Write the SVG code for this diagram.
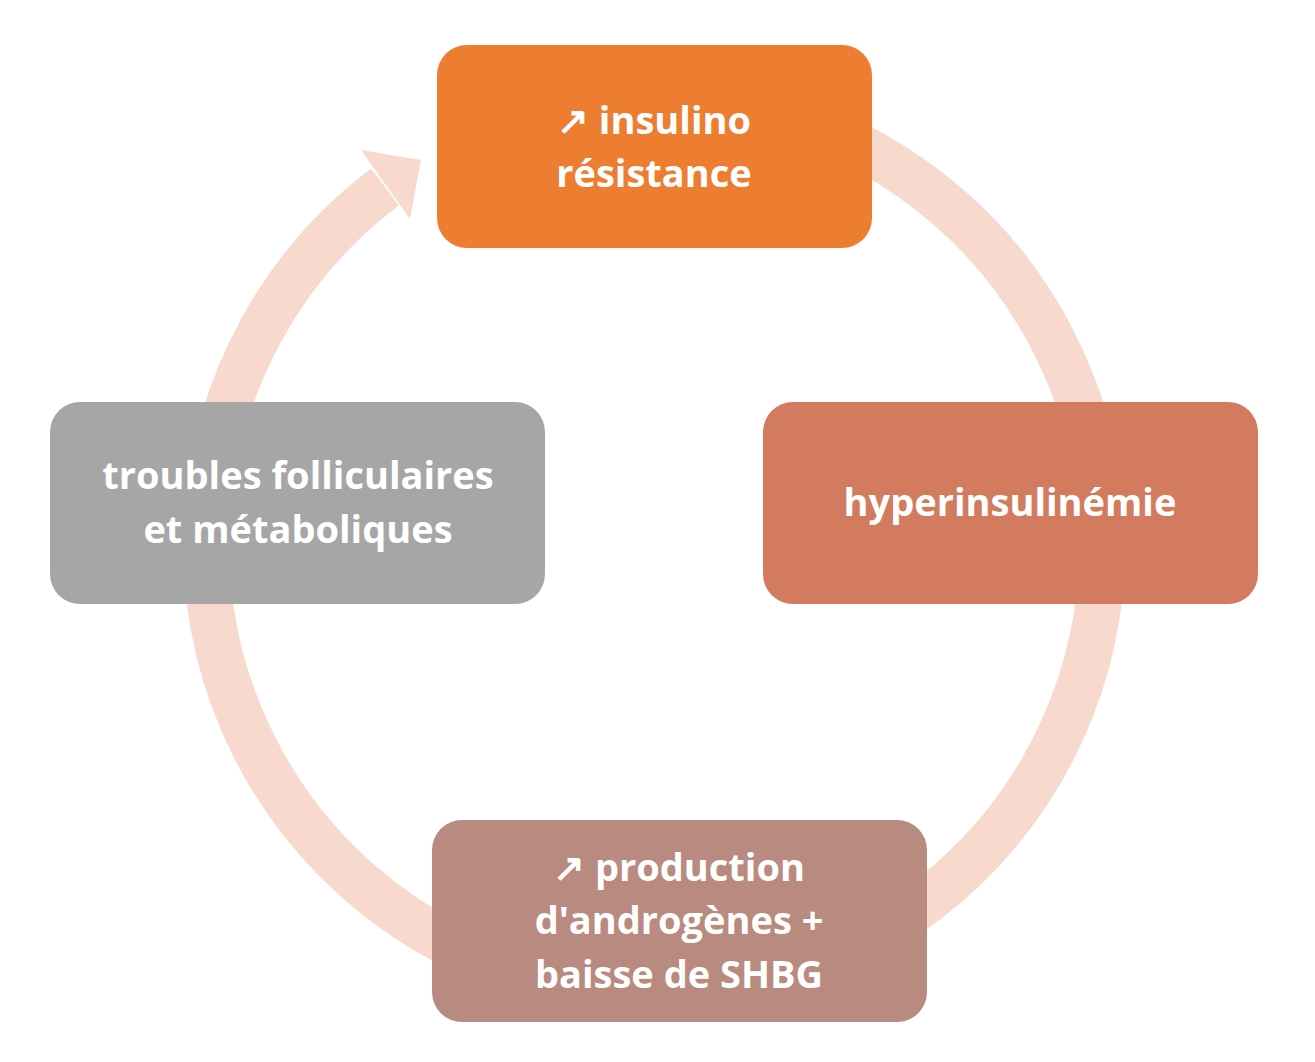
<svg xmlns="http://www.w3.org/2000/svg" width="1315" height="1062" viewBox="0 0 1315 1062">
<style>
.t{font-family:"Open Sans","Noto Sans",sans-serif;font-weight:700;font-size:38px;fill:#fff;text-anchor:middle}
</style>
<rect width="1315" height="1062" fill="#fff"/>
<g id="connectors">
<path d="M733,104 A448,448 0 1 1 385,187" fill="none" stroke="#F7D9CE" stroke-width="46"/>
<polygon points="421,160 361,150 410,219" fill="#F7D9CE"/>
</g>
<g id="n1"><rect x="437" y="45" width="435" height="203" rx="30" fill="#ED7D31"/>
<text class="t" x="654" y="134">↗ insulino</text><text class="t" x="654" y="187">résistance</text></g>
<g id="n2"><rect x="763" y="402" width="495" height="202" rx="30" fill="#D27B5E"/>
<text class="t" x="1010" y="516">hyperinsulinémie</text></g>
<g id="n3"><rect x="432" y="820" width="495" height="202" rx="30" fill="#B98A80"/>
<text class="t" x="679" y="881">↗ production</text><text class="t" x="679" y="934">d'androgènes +</text><text class="t" x="679" y="988">baisse de SHBG</text></g>
<g id="n4"><rect x="50" y="402" width="495" height="202" rx="30" fill="#A6A6A6"/>
<text class="t" x="298" y="489">troubles folliculaires</text><text class="t" x="298" y="543">et métaboliques</text></g>
</svg>
